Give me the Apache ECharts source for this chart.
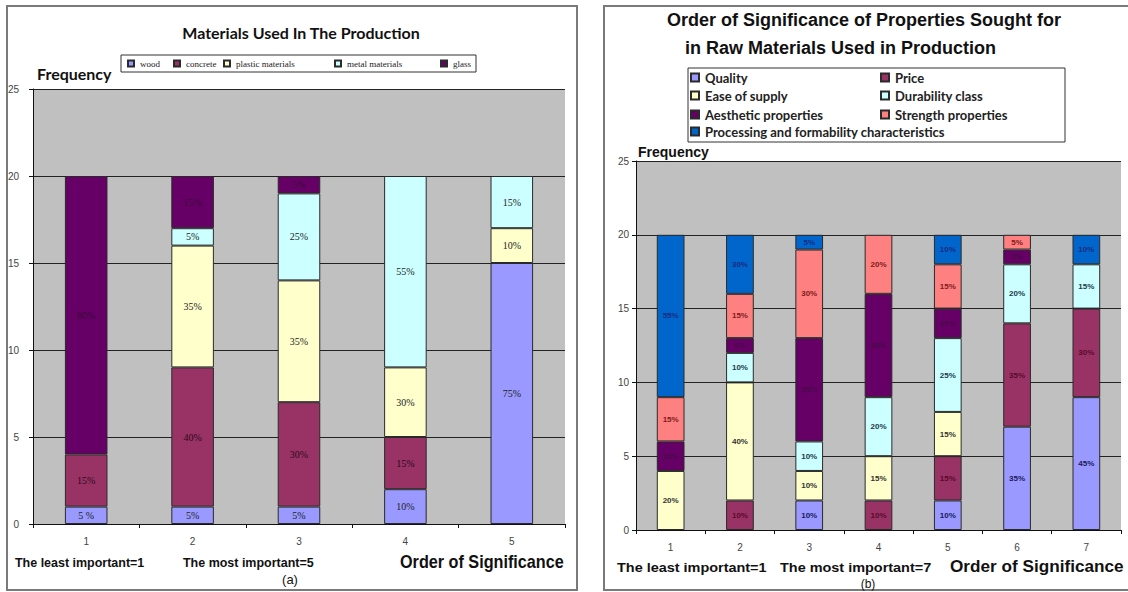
<!DOCTYPE html>
<html>
<head>
<meta charset="utf-8">
<script src="https://cdn.jsdelivr.net/npm/echarts@6/dist/echarts.min.js"></script>
<style>
html,body{margin:0;padding:0;background:#fff;}
#c{width:1128px;height:592px;}
</style>
</head>
<body>
<div id="c"></div>
<script>
// ---------- Chart (a) data ----------
const catsA = ['1', '2', '3', '4', '5'];
const woodA = [1, 1, 1, 2, 15];
const concreteA = [3, 8, 6, 3, 0];
const plasticA = [0, 7, 7, 4, 2];
const metalA = [0, 1, 5, 11, 3];
const glassA = [16, 3, 1, 0, 0];
const woodLblA = ['5 %', '5%', '5%', '10%', '75%'];
const concreteLblA = ['15%', '40%', '30%', '15%', ''];
const plasticLblA = ['', '35%', '35%', '30%', '10%'];
const metalLblA = ['', '5%', '25%', '55%', '15%'];
const glassLblA = ['80%', '15%', '5%', '', ''];
const yTicksA = [0, 5, 10, 15, 20, 25];

// ---------- Chart (b) data ----------
const catsB = ['1', '2', '3', '4', '5', '6', '7'];
const qualityB = [0, 0, 2, 0, 2, 7, 9];
const priceB = [0, 2, 0, 2, 3, 7, 6];
const easeB = [4, 8, 2, 3, 3, 0, 0];
const durabilityB = [0, 2, 2, 4, 5, 4, 3];
const aestheticB = [2, 1, 7, 7, 2, 1, 0];
const strengthB = [3, 3, 6, 4, 3, 1, 0];
const processingB = [11, 4, 1, 0, 2, 0, 2];
const qualityLblB = ['', '', '10%', '', '10%', '35%', '45%'];
const priceLblB = ['', '10%', '', '10%', '15%', '35%', '30%'];
const easeLblB = ['20%', '40%', '10%', '15%', '15%', '', ''];
const durabilityLblB = ['', '10%', '10%', '20%', '25%', '20%', '15%'];
const aestheticLblB = ['10%', '5%', '35%', '35%', '10%', '5%', ''];
const strengthLblB = ['15%', '15%', '30%', '20%', '15%', '5%', ''];
const processingLblB = ['55%', '30%', '5%', '', '10%', '', '10%'];
const yTicksB = [0, 5, 10, 15, 20, 25];

const chart = echarts.init(document.getElementById('c'), null, {renderer: 'svg'});

function mk(name, data, lbls, color, lblColor, idx, serif) {
  return {
    name: name,
    type: 'bar',
    stack: 'st' + idx,
    xAxisIndex: idx,
    yAxisIndex: idx,
    barWidth: '40%',
    data: data.map(v => v === 0 ? null : v),
    itemStyle: {color: color, borderColor: '#2a2a2a', borderWidth: 1},
    label: {
      show: true,
      position: 'inside',
      formatter: p => lbls[p.dataIndex],
      color: lblColor,
      fontFamily: serif ? 'Liberation Serif' : 'Liberation Sans',
      fontSize: serif ? 10 : 8,
      fontWeight: serif ? 'normal' : 'bold'
    },
    emphasis: {disabled: true},
    animation: false
  };
}

function lg(name, left, top, fs, fam, fw, icon) {
  return {
    data: [name], left: left, top: top, padding: 0, itemGap: 0,
    itemWidth: icon, itemHeight: icon, icon: 'rect',
    selectedMode: false,
    textStyle: {fontSize: fs, fontFamily: fam, fontWeight: fw, color: '#222', padding: [0, 0, 0, 1]}
  };
}

function txt(x, y, s, font, align, sx) {
  return {type: 'text', x: x, y: y, z: 50, scaleX: sx || 1,
    style: {text: s, font: font, fill: '#111', textAlign: align || 'left', textVerticalAlign: 'middle'}};
}

const axisCommon = {
  axisLine: {show: true, lineStyle: {color: '#111', width: 1}},
  axisTick: {show: true, length: 4, lineStyle: {color: '#111'}},
};

const option = {
  backgroundColor: '#ffffff',
  animation: false,
  grid: [
    {left: 33, top: 89, width: 532, height: 435, show: true, backgroundColor: '#C0C0C0', borderWidth: 0},
    {left: 636, top: 161, width: 485, height: 369, show: true, backgroundColor: '#C0C0C0', borderWidth: 0}
  ],
  xAxis: [
    Object.assign({type: 'category', gridIndex: 0, data: catsA,
      axisLabel: {fontSize: 10, color: '#444', margin: 12, fontFamily: 'Liberation Sans'}}, axisCommon),
    Object.assign({type: 'category', gridIndex: 1, data: catsB,
      axisLabel: {fontSize: 10, color: '#444', margin: 12, fontFamily: 'Liberation Sans'}}, axisCommon)
  ],
  yAxis: [
    Object.assign({type: 'value', gridIndex: 0, min: yTicksA[0], max: yTicksA[yTicksA.length - 1], interval: 5,
      axisLabel: {fontSize: 10, color: '#444', margin: 14, fontFamily: 'Liberation Sans'},
      splitLine: {show: true, lineStyle: {color: '#222', width: 1.2}}}, axisCommon),
    Object.assign({type: 'value', gridIndex: 1, min: yTicksB[0], max: yTicksB[yTicksB.length - 1], interval: 5,
      axisLabel: {fontSize: 10, color: '#444', margin: 7, fontFamily: 'Liberation Sans'},
      splitLine: {show: true, lineStyle: {color: '#222', width: 1.2}}}, axisCommon)
  ],
  legend: [
    lg('wood', 127, 59, 9, 'Liberation Serif', 'normal', 6),
    lg('concrete', 173, 59, 9, 'Liberation Serif', 'normal', 6),
    lg('plastic materials', 223, 59, 9, 'Liberation Serif', 'normal', 6),
    lg('metal materials', 334, 59, 9, 'Liberation Serif', 'normal', 6),
    lg('glass', 440, 59, 9, 'Liberation Serif', 'normal', 6),
    lg('Quality', 690, 71, 13, 'Lato', 'bold', 8),
    lg('Price', 880, 71, 13, 'Lato', 'bold', 8),
    lg('Ease of supply', 690, 89, 13, 'Lato', 'bold', 8),
    lg('Durability class', 880, 89, 13, 'Lato', 'bold', 8),
    lg('Aesthetic properties', 690, 108, 13, 'Lato', 'bold', 8),
    lg('Strength properties', 880, 108, 13, 'Lato', 'bold', 8),
    lg('Processing and formability characteristics', 690, 125, 13, 'Lato', 'bold', 8)
  ],
  series: [
    mk('wood', woodA, woodLblA, '#9999FF', '#222', 0, true),
    mk('concrete', concreteA, concreteLblA, '#993366', '#2a0a18', 0, true),
    mk('plastic materials', plasticA, plasticLblA, '#FFFFCC', '#222', 0, true),
    mk('metal materials', metalA, metalLblA, '#CCFFFF', '#222', 0, true),
    mk('glass', glassA, glassLblA, '#660066', '#3a0a3a', 0, true),
    mk('Quality', qualityB, qualityLblB, '#9999FF', '#1a1a5a', 1, false),
    mk('Price', priceB, priceLblB, '#993366', '#5a0a2a', 1, false),
    mk('Ease of supply', easeB, easeLblB, '#FFFFCC', '#333', 1, false),
    mk('Durability class', durabilityB, durabilityLblB, '#CCFFFF', '#1a3a4a', 1, false),
    mk('Aesthetic properties', aestheticB, aestheticLblB, '#660066', '#4a0a4a', 1, false),
    mk('Strength properties', strengthB, strengthLblB, '#FF8080', '#801a1a', 1, false),
    mk('Processing and formability characteristics', processingB, processingLblB, '#0066CC', '#1a2a80', 1, false)
  ],
  graphic: [
    {type: 'rect', z: 40, shape: {x: 7, y: 6, width: 570, height: 584}, style: {fill: 'none', stroke: '#7a7a7a', lineWidth: 2}},
    {type: 'rect', z: 40, shape: {x: 604, y: 6, width: 530, height: 584}, style: {fill: 'none', stroke: '#7a7a7a', lineWidth: 2}},
    {type: 'rect', z: 40, shape: {x: 121, y: 55, width: 355, height: 17}, style: {fill: 'none', stroke: '#333', lineWidth: 1}},
    {type: 'rect', z: 40, shape: {x: 688, y: 68, width: 377, height: 74}, style: {fill: 'none', stroke: '#333', lineWidth: 1}},
    txt(301, 32, 'Materials Used In The Production', 'bold 16px Lato', 'center'),
    txt(37, 73, 'Frequency', 'bold 16px Lato'),
    txt(15, 562, 'The least important=1', 'bold 13px "Liberation Sans"', 'left', 0.96),
    txt(183, 562, 'The most important=5', 'bold 13px "Liberation Sans"', 'left', 0.96),
    txt(400, 562, 'Order of Significance', 'bold 18px "Liberation Sans"', 'left', 0.9),
    txt(290, 579, '(a)', '13px "Liberation Sans"', 'center'),
    txt(864, 20, 'Order of Significance of Properties Sought for', 'bold 18px "Liberation Sans"', 'center'),
    txt(685, 48, 'in Raw Materials Used in Production', 'bold 18px "Liberation Sans"'),
    txt(638, 152, 'Frequency', 'bold 14px "Liberation Sans"'),
    txt(617, 567, 'The least important=1', 'bold 13.5px "Liberation Sans"', 'left', 1.07),
    txt(780, 567, 'The most important=7', 'bold 13.5px "Liberation Sans"', 'left', 1.07),
    txt(950, 567, 'Order of Significance', 'bold 17px "Liberation Sans"', 'left', 1.01),
    txt(868, 584, '(b)', '12px "Liberation Sans"', 'center')
  ]
};
chart.setOption(option);
</script>
</body>
</html>
